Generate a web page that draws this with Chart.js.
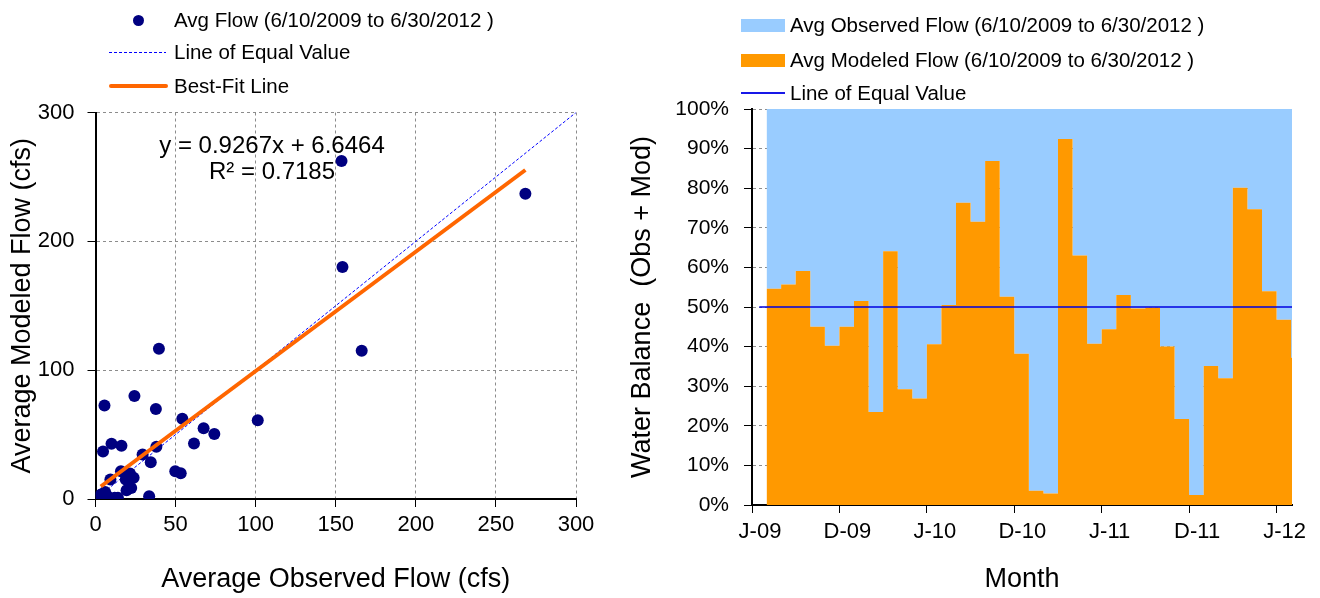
<!DOCTYPE html>
<html>
<head>
<meta charset="utf-8">
<script src="https://cdn.jsdelivr.net/npm/chart.js@4.4.0/dist/chart.umd.min.js"></script>
<style>
  body { margin: 0; background: #fff; overflow: hidden; font-family: 'Liberation Sans', Arial, sans-serif; }
  #wrap { position: relative; width: 1320px; height: 598px; }
  #scatterChart { position: absolute; left: 0; top: 0; }
  #balanceChart { position: absolute; left: 620px; top: 0; }
  .leg { position: absolute; font-size: 20.5px; line-height: 24px; white-space: nowrap; color: #000; }
  .mark { position: absolute; }
  .eqn { position: absolute; left: 122px; top: 132px; width: 300px; text-align: center; font-size: 24px; line-height: 26px; color: #000; }
</style>
</head>
<body>
<div id="wrap">
  <canvas id="scatterChart" width="620" height="598"></canvas>
  <canvas id="balanceChart" width="700" height="598"></canvas>

  <div class="mark" style="left:132.5px;top:14.5px;width:11px;height:11px;border-radius:50%;background:#000080"></div>
  <div class="leg" style="left:174px;top:8px">Avg Flow (6/10/2009 to 6/30/2012 )</div>
  <div class="mark" style="left:109px;top:51.5px;width:57px;height:1px;background:repeating-linear-gradient(to right,#0000ff 0 3px,transparent 3px 5px)"></div>
  <div class="leg" style="left:174px;top:40px">Line of Equal Value</div>
  <div class="mark" style="left:109px;top:84px;width:59px;height:4px;border-radius:2px;background:#ff6600"></div>
  <div class="leg" style="left:174px;top:74px">Best-Fit Line</div>

  <div class="eqn">y = 0.9267x + 6.6464<br>R² = 0.7185</div>

  <div class="mark" style="left:741px;top:18.5px;width:44px;height:13px;background:#99ccff"></div>
  <div class="leg" style="left:790px;top:13px">Avg Observed Flow (6/10/2009 to 6/30/2012 )</div>
  <div class="mark" style="left:741px;top:53.5px;width:44px;height:13px;background:#ff9900"></div>
  <div class="leg" style="left:790px;top:48px">Avg Modeled Flow (6/10/2009 to 6/30/2012 )</div>
  <div class="mark" style="left:741px;top:92px;width:44px;height:2px;background:#1818e8"></div>
  <div class="leg" style="left:790px;top:81px">Line of Equal Value</div>
</div>

<script>
// scatter: average observed vs modeled flow (cfs)
const obsFlow = [4.7, 5.6, 24.3, 39.6, 37.7, 54.2, 101.3, 67.5, 74.2, 61.5, 38.0, 10.0, 16.2, 29.4, 34.5, 49.8, 53.2,
  21.5, 15.9, 23.8, 9.3, 19.4, 33.5, 6.0, 12.0, 3.3, 7.5, 14.0, 153.6, 154.2, 268.4, 166.2, 22.3, 18.9];
const modFlow = [36.8, 72.5, 80.0, 116.7, 69.8, 62.3, 61.2, 54.9, 50.5, 43.0, 40.5, 42.9, 41.3, 34.5, 28.5, 21.5, 20.0,
  19.8, 21.5, 16.5, 15.1, 6.8, 2.2, 5.5, 0.9, 3.4, 2.2, 0.9, 262.4, 180.0, 237.0, 115.0, 8.5, 15.1];
const fitSlope = 0.9267;
const fitIntercept = 6.6464;
const equalRange = [0, 300];

// water balance: monthly share of modeled / observed flow (%)
const months = ['Jul-09', 'Aug-09', 'Sep-09', 'Oct-09', 'Nov-09', 'Dec-09', 'Jan-10', 'Feb-10', 'Mar-10', 'Apr-10',
  'May-10', 'Jun-10', 'Jul-10', 'Aug-10', 'Sep-10', 'Oct-10', 'Nov-10', 'Dec-10', 'Jan-11', 'Feb-11', 'Mar-11',
  'Apr-11', 'May-11', 'Jun-11', 'Jul-11', 'Aug-11', 'Sep-11', 'Oct-11', 'Nov-11', 'Dec-11', 'Jan-12', 'Feb-12',
  'Mar-12', 'Apr-12', 'May-12', 'Jun-12', 'Jul-12'];
const modShare = [54.6, 55.7, 59.1, 45.0, 40.2, 45.0, 51.5, 23.5, 64.1, 29.2, 26.9, 40.6, 50.5, 76.3, 71.5, 86.9,
  52.6, 38.2, 3.6, 2.9, 92.4, 63.0, 40.7, 44.4, 53.0, 49.6, 49.9, 40.0, 21.7, 2.5, 35.1, 32.0, 80.1, 74.7, 54.0, 46.8, 37.2];
const obsShare = [45.4, 44.3, 40.9, 55.0, 59.8, 55.0, 48.5, 76.5, 35.9, 70.8, 73.1, 59.4, 49.5, 23.7, 28.5, 13.1,
  47.4, 61.8, 96.4, 97.1, 7.6, 37.0, 59.3, 55.6, 47.0, 50.4, 50.1, 60.0, 78.3, 97.5, 64.9, 68.0, 19.9, 25.3, 46.0, 53.2, 62.8];
const equalShare = 50;
const tickMonths = [0, 6, 12, 18, 24, 30, 36];
const tickLabels = ['J-09', 'D-09', 'J-10', 'D-10', 'J-11', 'D-11', 'J-12'];

const fontFam = "'Liberation Sans', Arial, sans-serif";
Chart.defaults.font.family = fontFam;
Chart.defaults.color = '#000';

// ---------- left: scatter ----------
const pts = obsFlow.map((x, i) => ({ x: x, y: modFlow[i] }));
const xMin = Math.min(...obsFlow), xMax = Math.max(...obsFlow);
const fitPts = [xMin, xMax].map(x => ({ x: x, y: fitSlope * x + fitIntercept }));
const eqPts = equalRange.map(v => ({ x: v, y: v }));

new Chart(document.getElementById('scatterChart'), {
  type: 'scatter',
  data: {
    datasets: [
      { label: 'Avg Flow', data: pts, backgroundColor: '#000080', borderWidth: 0, pointRadius: 6, order: 1 },
      { type: 'line', label: 'Line of Equal Value', data: eqPts, borderColor: '#0000ff', borderWidth: 1,
        borderDash: [3, 2], pointRadius: 0, fill: false, order: 2 },
      { type: 'line', label: 'Best-Fit Line', data: fitPts, borderColor: '#ff6600', borderWidth: 4,
        pointRadius: 0, fill: false, order: 0 }
    ]
  },
  options: {
    responsive: false,
    animation: false,
    events: [],
    layout: { padding: { top: 112.5, right: 44, bottom: 0, left: 0 } },
    plugins: { legend: { display: false }, tooltip: { enabled: false } },
    scales: {
      x: {
        type: 'linear', min: 0, max: 300,
        afterFit: s => { s.height = 99; },
        ticks: { stepSize: 50, font: { size: 22 }, padding: 5, maxRotation: 0 },
        grid: { color: '#8c8c8c', tickColor: '#000', tickLength: 8, tickBorderDash: [] },
        border: { display: true, color: '#000', width: 2, dash: [3, 3] },
        title: { display: true, text: 'Average Observed Flow (cfs)', font: { size: 27 }, padding: { top: 0, bottom: 2 } }
      },
      y: {
        type: 'linear', min: 0, max: 300,
        afterFit: s => { s.width = 95.5; },
        ticks: { stepSize: 100, font: { size: 22 }, padding: 13 },
        grid: { color: '#8c8c8c', tickColor: '#000', tickLength: 8, tickBorderDash: [] },
        border: { display: true, color: '#000', width: 2, dash: [3, 3] },
        title: { display: true, text: 'Average Modeled Flow (cfs)', font: { size: 27 }, padding: { top: 6, bottom: 0 } }
      }
    }
  }
});

// ---------- right: water balance ----------
const stepPts = arr => arr.map((v, i) => ({ x: i + 1, y: v })).concat([{ x: arr.length + 1, y: arr[arr.length - 1] }]);

new Chart(document.getElementById('balanceChart'), {
  type: 'line',
  data: {
    datasets: [
      { label: 'Avg Modeled Flow', data: stepPts(modShare), stepped: true, fill: 'origin',
        backgroundColor: '#ff9900', borderColor: 'transparent', pointRadius: 0, stack: 'wb', order: 1 },
      { label: 'Avg Observed Flow', data: stepPts(obsShare), stepped: true, fill: '-1',
        backgroundColor: '#99ccff', borderColor: 'transparent', pointRadius: 0, stack: 'wb', order: 2 },
      { label: 'Line of Equal Value', data: [{ x: 0.5, y: equalShare }, { x: months.length + 1, y: equalShare }],
        borderColor: '#0000e0', borderWidth: 1.5, pointRadius: 0, fill: false, stack: 'eq', order: 0 }
    ]
  },
  options: {
    responsive: false,
    animation: false,
    events: [],
    layout: { padding: { top: 109, right: 28, bottom: 0, left: 0 } },
    plugins: { legend: { display: false }, tooltip: { enabled: false } },
    scales: {
      x: {
        type: 'linear', min: 0, max: 37.06,
        afterFit: s => { s.height = 93; },
        afterBuildTicks: s => { s.ticks = tickMonths.map(v => ({ value: v })); },
        ticks: {
          font: { size: 22 }, padding: 6, labelOffset: 8, maxRotation: 0, autoSkip: false,
          callback: v => tickLabels[tickMonths.indexOf(v)]
        },
        grid: { drawOnChartArea: false, tickColor: '#000', tickLength: 8 },
        border: { display: true, color: '#000', width: 2 },
        title: { display: true, text: 'Month', font: { size: 27 }, padding: { top: 0, bottom: 2 } }
      },
      y: {
        type: 'linear', min: 0, max: 100, stacked: true,
        afterFit: s => { s.width = 132; },
        ticks: { stepSize: 10, font: { size: 21 }, padding: 15, callback: v => v + '%' },
        grid: { color: '#8c8c8c', tickColor: '#000', tickLength: 8, tickBorderDash: [] },
        border: { display: true, color: '#000', width: 2, dash: [3, 3] },
        title: { display: true, text: 'Water Balance  (Obs + Mod)', font: { size: 27 }, padding: { top: 6, bottom: 0 } }
      }
    }
  }
});
</script>
</body>
</html>
